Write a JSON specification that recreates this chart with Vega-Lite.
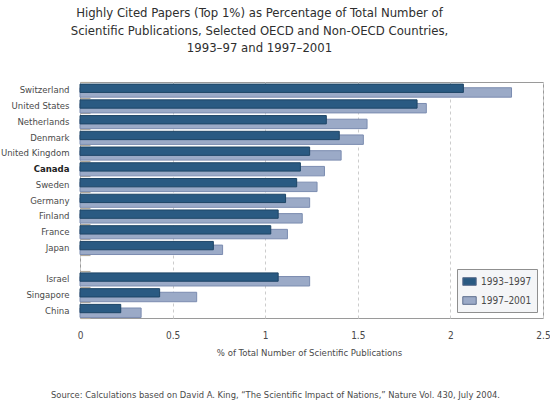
{
  "$schema": "https://vega.github.io/schema/vega-lite/v6.json",
  "description": "Highly cited papers as share of all scientific publications, two periods, overlapping bars.",
  "background": "white",
  "autosize": {"type": "none"},
  "padding": {"left": 80, "top": 82, "right": 7, "bottom": 88},
  "width": 463,
  "height": 236,
  "title": {
    "text": [
      "Highly Cited Papers (Top 1%) as Percentage of Total Number of",
      "Scientific Publications, Selected OECD and Non-OECD Countries,",
      "1993–97 and 1997–2001"
    ],
    "frame": "group",
    "anchor": "middle",
    "dx": -52,
    "offset": 22,
    "font": "DejaVu Sans Condensed",
    "fontSize": 13,
    "fontWeight": "normal",
    "lineHeight": 17.5,
    "color": "#2e2e2e"
  },
  "data": {
    "values": [
      {"country": "Switzerland", "period": "1993–1997", "value": 2.07},
      {"country": "Switzerland", "period": "1997–2001", "value": 2.33},
      {"country": "United States", "period": "1993–1997", "value": 1.82},
      {"country": "United States", "period": "1997–2001", "value": 1.87},
      {"country": "Netherlands", "period": "1993–1997", "value": 1.33},
      {"country": "Netherlands", "period": "1997–2001", "value": 1.55},
      {"country": "Denmark", "period": "1993–1997", "value": 1.40},
      {"country": "Denmark", "period": "1997–2001", "value": 1.53},
      {"country": "United Kingdom", "period": "1993–1997", "value": 1.24},
      {"country": "United Kingdom", "period": "1997–2001", "value": 1.41},
      {"country": "Canada", "period": "1993–1997", "value": 1.19},
      {"country": "Canada", "period": "1997–2001", "value": 1.32},
      {"country": "Sweden", "period": "1993–1997", "value": 1.17},
      {"country": "Sweden", "period": "1997–2001", "value": 1.28},
      {"country": "Germany", "period": "1993–1997", "value": 1.11},
      {"country": "Germany", "period": "1997–2001", "value": 1.24},
      {"country": "Finland", "period": "1993–1997", "value": 1.07},
      {"country": "Finland", "period": "1997–2001", "value": 1.20},
      {"country": "France", "period": "1993–1997", "value": 1.03},
      {"country": "France", "period": "1997–2001", "value": 1.12},
      {"country": "Japan", "period": "1993–1997", "value": 0.72},
      {"country": "Japan", "period": "1997–2001", "value": 0.77},
      {"country": "Israel", "period": "1993–1997", "value": 1.07},
      {"country": "Israel", "period": "1997–2001", "value": 1.24},
      {"country": "Singapore", "period": "1993–1997", "value": 0.43},
      {"country": "Singapore", "period": "1997–2001", "value": 0.63},
      {"country": "China", "period": "1993–1997", "value": 0.22},
      {"country": "China", "period": "1997–2001", "value": 0.33}
    ]
  },
  "encoding": {
    "y": {
      "field": "country",
      "type": "nominal",
      "scale": {
        "domain": ["Switzerland", "United States", "Netherlands", "Denmark", "United Kingdom", "Canada", "Sweden", "Germany", "Finland", "France", "Japan", " ", "Israel", "Singapore", "China"],
        "paddingInner": 0,
        "paddingOuter": 0
      },
      "axis": {
        "title": null,
        "domain": false,
        "ticks": true,
        "tickBand": "extent",
        "tickSize": -10,
        "tickColor": "#b3ab9c",
        "tickWidth": 1.2,
        "labelPadding": 21,
        "labelFont": "DejaVu Sans Condensed",
        "labelFontSize": 9.5,
        "labelColor": {"condition": {"test": "datum.value === 'Canada'", "value": "#222222"}, "value": "#4a4a4a"},
        "labelFontWeight": {"condition": {"test": "datum.value === 'Canada'", "value": "bold"}, "value": "normal"}
      }
    },
    "x": {
      "field": "value",
      "type": "quantitative",
      "scale": {"domain": [0, 2.5], "nice": false}
    },
    "color": {
      "field": "period",
      "type": "nominal",
      "scale": {"domain": ["1993–1997", "1997–2001"], "range": ["#2a5a82", "#9baac7"]},
      "legend": {
        "title": null,
        "orient": "bottom-right",
        "offset": 6,
        "padding": 5,
        "fillColor": "#f4f5f7",
        "strokeColor": "#8f8f8f",
        "symbolType": "M-1,-0.57H1V0.57H-1Z",
        "symbolSize": 180,
        "symbolStrokeWidth": 1,
        "symbolStrokeColor": "#5e6f8e",
        "labelFont": "DejaVu Sans Condensed",
        "labelFontSize": 10,
        "labelColor": "#4a4a4a",
        "rowPadding": 5,
        "labelOffset": 4
      }
    }
  },
  "layer": [
    {
      "transform": [{"filter": "datum.period === '1997–2001'"}],
      "mark": {"type": "bar", "height": {"band": 0.6}, "yOffset": 2.6, "stroke": "#7b8cb0", "strokeWidth": 1, "cornerRadius": 0},
      "encoding": {
        "x": {
          "field": "value",
          "type": "quantitative",
          "axis": {
            "orient": "bottom",
            "values": [0, 0.5, 1, 1.5, 2, 2.5],
            "format": "~g",
            "domain": false,
            "ticks": false,
            "grid": true,
            "gridColor": "#cccccc",
            "gridDash": [3, 3],
            "gridWidth": 1,
            "labelPadding": 12,
            "labelFont": "DejaVu Sans Condensed",
            "labelFontSize": 10,
            "labelColor": "#4a4a4a",
            "labelFlush": false,
            "title": "% of Total Number of Scientific Publications",
            "titleX": 229,
            "titleY": 29,
            "titleAlign": "center",
            "titleBaseline": "top",
            "titleFont": "DejaVu Sans Condensed",
            "titleFontSize": 9.5,
            "titleFontWeight": "normal",
            "titleColor": "#4a4a4a"
          }
        }
      }
    },
    {
      "transform": [{"filter": "datum.period === '1993–1997'"}],
      "mark": {"type": "bar", "height": {"band": 0.53}, "yOffset": -1.6, "stroke": "#1e4566", "strokeWidth": 1, "cornerRadius": 0},
      "encoding": {
        "x": {
          "field": "value",
          "type": "quantitative",
          "axis": {
            "orient": "bottom",
            "labels": false,
            "domain": false,
            "ticks": false,
            "grid": false,
            "title": "Source: Calculations based on David A. King, “The Scientific Impact of Nations,” Nature Vol. 430, July 2004.",
            "titleX": 195,
            "titleY": 72,
            "titleAlign": "center",
            "titleBaseline": "top",
            "titleFont": "DejaVu Sans Condensed",
            "titleFontSize": 9.3,
            "titleFontWeight": "normal",
            "titleColor": "#4a4a4a"
          }
        }
      }
    }
  ],
  "resolve": {"axis": {"x": "independent"}},
  "config": {
    "view": {"stroke": "#9a9a9a", "strokeWidth": 1}
  }
}
